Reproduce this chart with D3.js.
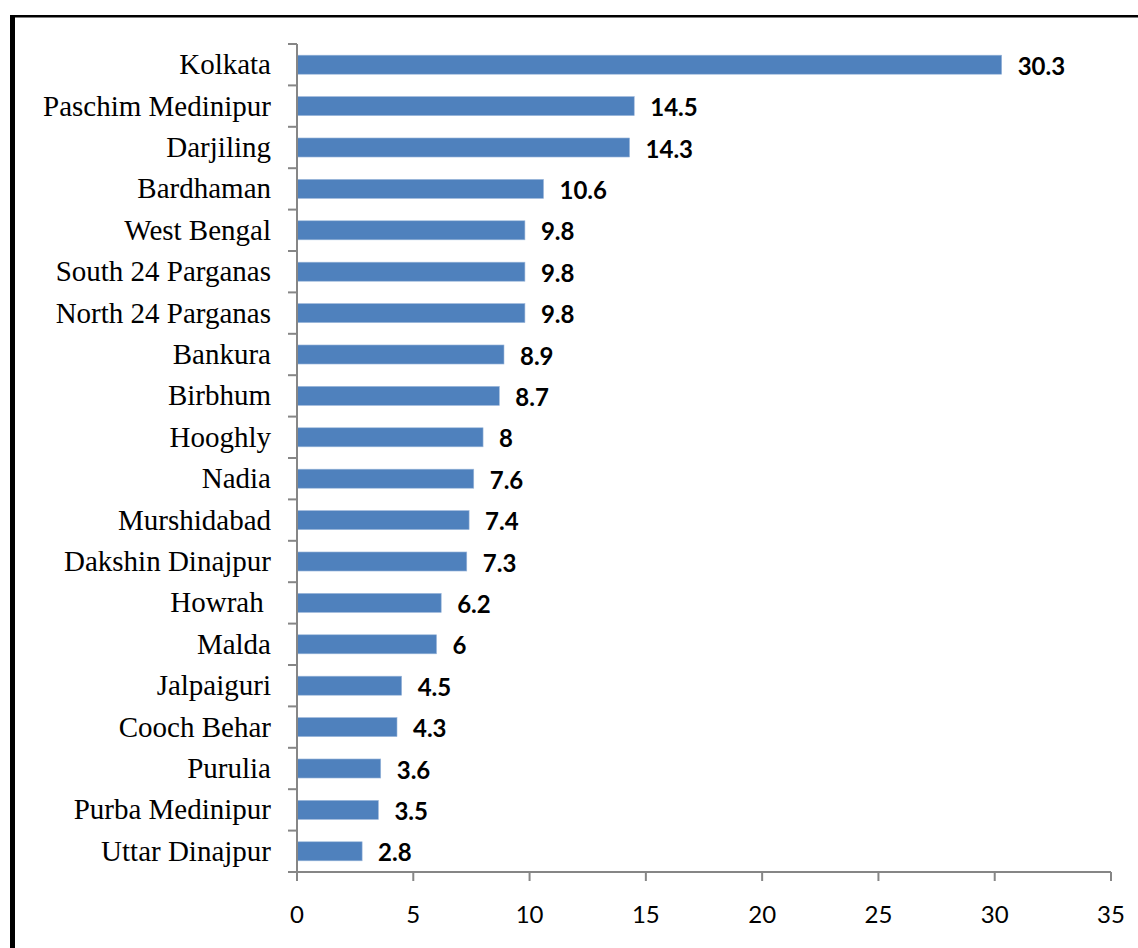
<!DOCTYPE html>
<html>
<head>
<meta charset="utf-8">
<script src="https://cdn.jsdelivr.net/npm/d3@7"></script>
<style>
  html, body { margin: 0; padding: 0; background: #fff; }
  svg { display: block; }
</style>
</head>
<body>
<div id="chart"></div>
<script>
// districts, top to bottom
const districts = [
  "Kolkata", "Paschim Medinipur", "Darjiling", "Bardhaman", "West Bengal",
  "South 24 Parganas", "North 24 Parganas", "Bankura", "Birbhum", "Hooghly",
  "Nadia", "Murshidabad", "Dakshin Dinajpur", "Howrah ", "Malda",
  "Jalpaiguri", "Cooch Behar", "Purulia", "Purba Medinipur", "Uttar Dinajpur"
];
const values = [
  30.3, 14.5, 14.3, 10.6, 9.8,
  9.8, 9.8, 8.9, 8.7, 8,
  7.6, 7.4, 7.3, 6.2, 6,
  4.5, 4.3, 3.6, 3.5, 2.8
];
const xTicks = [0, 5, 10, 15, 20, 25, 30, 35];

const width = 1138;
const height = 948;
const margin = { top: 44, right: 27, bottom: 76, left: 297 };

const svg = d3.select("#chart").append("svg")
  .attr("width", width)
  .attr("height", height);

// outer frame (cropped on right and bottom)
svg.append("rect").attr("x", 10).attr("y", 15).attr("width", width).attr("height", 2.5).attr("fill", "#000");
svg.append("rect").attr("x", 10).attr("y", 15).attr("width", 5).attr("height", height).attr("fill", "#000");

const x = d3.scaleLinear()
  .domain([0, 35])
  .range([margin.left, width - margin.right]);

const y = d3.scaleBand()
  .domain(districts)
  .range([margin.top, height - margin.bottom])
  .paddingInner(0.54)
  .paddingOuter(0.27);

const axisColor = "#868686";
const step = y.step();
const y0 = y.range()[0], y1 = y.range()[1];

// bars
svg.append("g")
  .selectAll("rect")
  .data(districts)
  .join("rect")
    .attr("x", x(0))
    .attr("y", d => y(d))
    .attr("width", (d, i) => x(values[i]) - x(0))
    .attr("height", y.bandwidth())
    .attr("fill", "#4F81BD")
    .attr("stroke", "#9db8db")
    .attr("stroke-width", 0.6);

// y axis: line + boundary ticks
const gy = svg.append("g").attr("stroke", axisColor).attr("stroke-width", 2);
gy.append("line")
  .attr("x1", x(0)).attr("x2", x(0))
  .attr("y1", y0).attr("y2", y1);
gy.selectAll("line.tick")
  .data(d3.range(districts.length + 1))
  .join("line")
    .attr("class", "tick")
    .attr("x1", x(0) - 9).attr("x2", x(0))
    .attr("y1", i => y0 + i * step).attr("y2", i => y0 + i * step);

// x axis: line + ticks
const gx = svg.append("g").attr("stroke", axisColor).attr("stroke-width", 2);
gx.append("line")
  .attr("x1", x(0)).attr("x2", x(35))
  .attr("y1", y1).attr("y2", y1);
gx.selectAll("line.tick")
  .data(xTicks)
  .join("line")
    .attr("class", "tick")
    .attr("x1", d => x(d)).attr("x2", d => x(d))
    .attr("y1", y1).attr("y2", y1 + 9);

// x tick labels
svg.append("g")
  .style("font", "24px Lato, 'Open Sans', sans-serif")
  .attr("text-anchor", "middle")
  .attr("fill", "#000")
  .selectAll("text")
  .data(xTicks)
  .join("text")
    .attr("x", d => x(d))
    .attr("y", y1 + 51)
    .text(d => d);

// category labels
svg.append("g")
  .style("font", "29px 'Liberation Serif', 'Times New Roman', serif")
  .attr("xml:space", "preserve")
  .style("white-space", "pre")
  .attr("text-anchor", "end")
  .attr("fill", "#000")
  .selectAll("text")
  .data(districts)
  .join("text")
    .attr("xml:space", "preserve")
    .attr("x", x(0) - 26)
    .attr("y", d => y(d) + y.bandwidth() / 2)
    .attr("dy", "0.33em")
    .text(d => d);

// value labels
svg.append("g")
  .style("font", "bold 24px Lato, 'Open Sans', sans-serif")
  .attr("fill", "#000")
  .selectAll("text")
  .data(districts)
  .join("text")
    .attr("x", (d, i) => x(values[i]) + 16)
    .attr("y", d => y(d) + y.bandwidth() / 2)
    .attr("dy", "0.42em")
    .text((d, i) => values[i]);
</script>
</body>
</html>
